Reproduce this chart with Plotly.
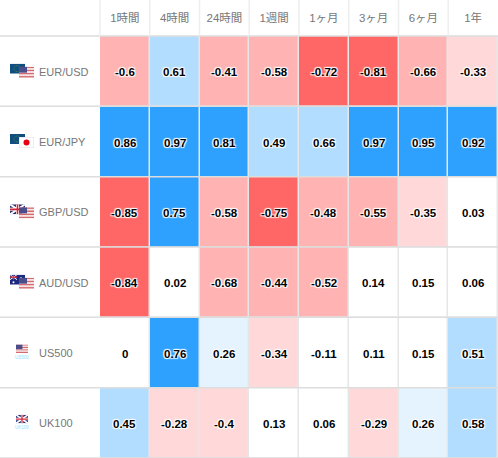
import base64
import plotly.graph_objects as go

periods = ["1時間", "4時間", "24時間", "1週間", "1ヶ月", "3ヶ月", "6ヶ月", "1年"]
pairs = ["EUR/USD", "EUR/JPY", "GBP/USD", "AUD/USD", "US500", "UK100"]
eur_usd = [-0.6, 0.61, -0.41, -0.58, -0.72, -0.81, -0.66, -0.33]
eur_jpy = [0.86, 0.97, 0.81, 0.49, 0.66, 0.97, 0.95, 0.92]
gbp_usd = [-0.85, 0.75, -0.58, -0.75, -0.48, -0.55, -0.35, 0.03]
aud_usd = [-0.84, 0.02, -0.68, -0.44, -0.52, 0.14, 0.15, 0.06]
us500 = [0, 0.76, 0.26, -0.34, -0.11, 0.11, 0.15, 0.51]
uk100 = [0.45, -0.28, -0.4, 0.13, 0.06, -0.29, 0.26, 0.58]
matrix = [eur_usd, eur_jpy, gbp_usd, aud_usd, us500, uk100]

W, H = 498, 458
LEFT, TOP = 100, 36
LINE = "#dddddd"
HALO = "1px 1px 1px #fff, -1px -1px 1px #fff, 1px -1px 1px #fff, -1px 1px 1px #fff"


def stops():
    bins = [(-1.0, "#ff6666"), (-0.7, "#ffb3b3"), (-0.405, "#ffd9d9"), (-0.2, "#ffffff"),
            (0.2, "#e5f3ff"), (0.4, "#b3ddff"), (0.7, "#2ea1ff"), (1.0, None)]
    out = []
    for (a, c), (b, _) in zip(bins, bins[1:]):
        out += [[(a + 1) / 2, c], [(b + 1) / 2, c]]
    return out


def uri(svg):
    return "data:image/svg+xml;base64," + base64.b64encode(svg.encode()).decode()


def svg(w, h, body):
    return f'<svg xmlns="http://www.w3.org/2000/svg" width="{w*4}" height="{h*4}" viewBox="0 0 {w} {h}">{body}</svg>'


US = svg(15, 11, "".join(f'<rect y="{i*11/7:.2f}" width="15" height="{11/7:.2f}" fill="{"#d66a6f" if i%2==0 else "#f6e4e4"}"/>' for i in range(7))
         + '<rect width="8" height="6" fill="#4a4f8c"/>')
EU = svg(15, 10, '<rect width="15" height="10" fill="#0f4f7f"/><circle cx="7" cy="5" r="3" fill="none" stroke="#6d8a3a" stroke-width="0.8" stroke-dasharray="0.8 0.8"/>')
JP = svg(15, 11, '<rect width="15" height="11" fill="#fff" stroke="#d5d5d5" stroke-width="0.8"/><circle cx="7.5" cy="5.5" r="3" fill="#e60012"/>')
UK_BODY = ('<rect width="15" height="10" fill="#27327a"/><path d="M0 0L15 10M15 0L0 10" stroke="#fff" stroke-width="2"/>'
           '<path d="M7.5 0V10M0 5H15" stroke="#fff" stroke-width="3"/><path d="M7.5 0V10M0 5H15" stroke="#d3263c" stroke-width="1.6"/>')
UK = svg(15, 10, UK_BODY)
AU = svg(15, 10, '<rect width="15" height="10" fill="#1b2a80"/><path d="M0 0L7 5M7 0L0 5" stroke="#fff" stroke-width="1"/>'
         '<path d="M3.5 0V5M0 2.5H7" stroke="#e03040" stroke-width="1.2"/><circle cx="3.5" cy="7.5" r="1" fill="#fff"/><circle cx="11" cy="3" r=".7" fill="#fff"/><circle cx="12" cy="7" r=".7" fill="#fff"/>')

flag_pairs = [(EU, US), (EU, JP), (UK, US), (AU, US)]
index_flags = [(US, "US500"), (UK, "UK100")]


def row_center(i):
    return TOP + (H - TOP) * (i + 0.5) / len(pairs)


def image(src, x0, y0, w, h):
    return dict(source=uri(src), xref="paper", yref="paper", x=x0 / W, y=1 - y0 / H,
                sizex=w / W, sizey=h / H, sizing="stretch", xanchor="left", yanchor="top", layer="above")


images, annos, shapes = [], [], []
for i, (a, b) in enumerate(flag_pairs):
    c = row_center(i)
    images.append(image(a, 10, c - 7.5, 15, 10))
    images.append(image(b, 19, c - 4.5, 15, 11))
for k, (f, lab) in enumerate(index_flags):
    c = row_center(4 + k)
    images.append(image(f, 16, c - 8, 12, 8.5))
    annos.append(dict(x=22 / W, xref="paper", y=1 - (c + 5) / H, yref="paper", text=lab, showarrow=False,
                      font=dict(family="Liberation Sans", size=4.5, color="#8fe0ff"), xanchor="center", yanchor="middle"))
for p in pairs:
    annos.append(dict(x=39 / W, xref="paper", xanchor="left", y=p, yref="y", text=p, showarrow=False, xshift=-2, yshift=-0.5,
                      font=dict(family="Liberation Sans", size=11, color="#777777"), yanchor="middle"))
for r, row in zip(pairs, matrix):
    for p, v in zip(periods, row):
        annos.append(dict(x=p, y=r, xref="x", yref="y", text=str(v), showarrow=False, yshift=-1,
                          font=dict(family="Liberation Sans", size=11.5, color="#000000", weight="bold", shadow=HALO)))

for i in range(len(pairs) + 1):
    y = 1 - (TOP + (H - TOP) * i / len(pairs)) / H
    shapes.append(dict(type="line", xref="paper", yref="paper", x0=0, x1=1, y0=y, y1=y,
                       line=dict(color=LINE, width=1.5), layer="above"))
for j in range(len(periods)):
    x = (LEFT + (W - LEFT) * j / len(periods)) / W
    shapes.append(dict(type="line", xref="paper", yref="paper", x0=x, x1=x, y0=1 - TOP / H, y1=1,
                       line=dict(color="#eeeeee", width=1.5), layer="above"))

fig = go.Figure()
fig.add_trace(go.Heatmap(z=matrix, x=periods, y=pairs, zmin=-1, zmax=1, colorscale=stops(), showscale=False,
                         xgap=1.5, ygap=0.5, hoverinfo="skip"))
fig.update_layout(
    width=W, height=H, margin=dict(l=0, r=0, t=0, b=0), paper_bgcolor="#ffffff", plot_bgcolor="#e6e6e6",
    showlegend=False, images=images, annotations=annos, shapes=shapes,
    xaxis=dict(domain=[LEFT / W, 1], side="top", type="category", categoryorder="array", categoryarray=periods,
               showgrid=False, zeroline=False, ticks="", ticklabelstandoff=11, automargin=False, fixedrange=True,
               tickfont=dict(family="Liberation Sans, Noto Sans CJK JP", size=11.5, color="#777777")),
    yaxis=dict(domain=[0, 1 - TOP / H], type="category", categoryorder="array", categoryarray=pairs[::-1],
               showgrid=False, zeroline=False, showticklabels=False, ticks="", automargin=False, fixedrange=True),
)
fig.write_html("out.html", config=dict(displayModeBar=False), post_script="document.body.style.margin='0';")
